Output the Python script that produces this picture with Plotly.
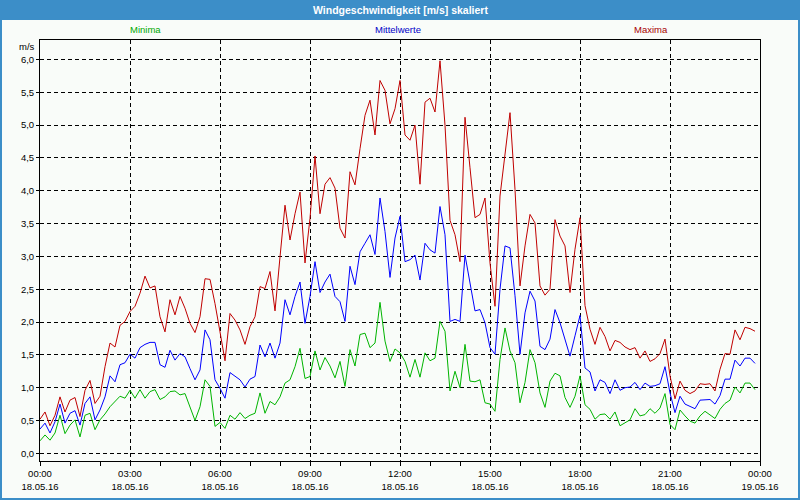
import plotly.graph_objects as go

# ---------------- data (10-minute samples, 18.05.16 00:00 .. 23:50) ----------------
maxima = [
    0.52, 0.63, 0.42, 0.58, 0.86, 0.63, 0.81, 0.85, 0.56, 0.96, 1.11, 0.76, 0.87, 1.32, 1.68,
    1.62, 1.95, 2.01, 2.16, 2.24, 2.44, 2.70, 2.52, 2.55, 2.08, 1.85, 2.34, 2.11, 2.39, 2.21,
    1.98, 1.84, 2.08, 2.66, 2.65, 2.28, 1.85, 1.41, 2.13, 2.03, 1.88, 1.66, 1.93, 2.08, 2.54,
    2.51, 2.77, 2.17, 2.99, 3.78, 3.25, 3.65, 3.98, 2.90, 3.58, 4.53, 3.65, 4.10,
    4.20, 4.04, 3.43, 3.28, 4.29, 4.09, 4.64, 5.15, 5.38, 4.85, 5.68, 5.53, 5.02, 5.25, 5.68,
    4.85, 4.77, 5.00, 4.10, 5.35, 5.41, 5.20, 5.98, 5.00, 3.55, 3.33, 2.92, 5.12, 4.35,
    3.59, 3.64, 3.89, 2.90, 2.24, 3.92, 4.60, 5.19, 4.02, 2.55, 3.16, 3.64, 3.51, 2.55, 2.41,
    2.50, 3.56, 3.31, 3.16, 2.45, 3.11, 3.59, 2.25, 1.89, 1.66, 1.92, 1.78, 1.56, 1.72,
    1.69, 1.62, 1.58, 1.61, 1.45, 1.56, 1.40, 1.44, 1.52, 1.74, 1.18, 0.83, 1.10, 0.96, 0.91,
    0.95, 1.06, 1.05, 1.06, 0.95, 1.28, 1.52, 1.51, 1.88, 1.73, 1.92, 1.90, 1.86,
]
mittelwerte = [
    0.37, 0.46, 0.31, 0.48, 0.75, 0.46, 0.61, 0.65, 0.43, 0.76, 0.86, 0.51, 0.66, 0.86, 1.18,
    1.09, 1.35, 1.38, 1.51, 1.45, 1.61, 1.66, 1.69, 1.69, 1.35, 1.31, 1.57, 1.42, 1.52, 1.47,
    1.29, 1.12, 1.27, 1.88, 1.73, 1.12, 0.99, 0.84, 1.23, 1.17, 1.12, 1.01, 1.13, 1.17, 1.65,
    1.47, 1.68, 1.45, 1.68, 2.34, 2.11, 2.39, 2.61, 1.98, 2.39, 2.92, 2.45, 2.61,
    2.73, 2.39, 2.31, 2.01, 2.85, 2.57, 3.07, 3.20, 3.33, 3.03, 3.89, 3.38, 2.68, 3.28, 3.61,
    2.92, 2.95, 3.02, 2.64, 3.20, 3.10, 3.05, 3.76, 3.33, 2.01, 2.04, 2.01, 3.02, 2.60,
    2.17, 2.19, 1.99, 1.61, 1.51, 2.50, 3.16, 3.13, 2.40, 1.51, 2.14, 2.47, 2.32, 1.63, 1.58,
    1.74, 2.19, 1.99, 1.74, 1.48, 1.79, 2.10, 1.30, 1.24, 0.95, 1.12, 1.08, 0.91, 1.12,
    0.96, 1.00, 1.01, 1.08, 0.97, 1.07, 1.02, 1.03, 1.06, 1.32, 0.92, 0.62, 0.87, 0.75, 0.71,
    0.68, 0.81, 0.82, 0.82, 0.75, 0.88, 1.13, 1.13, 1.42, 1.33, 1.45, 1.45, 1.37,
]
minima = [
    0.19, 0.28, 0.20, 0.31, 0.58, 0.30, 0.43, 0.51, 0.25, 0.58, 0.61, 0.36, 0.51, 0.60, 0.71,
    0.79, 0.87, 0.84, 0.96, 0.84, 0.97, 0.84, 0.94, 0.97, 0.82, 0.86, 0.94, 0.95, 0.89, 0.91,
    0.71, 0.50, 0.71, 1.12, 1.02, 0.41, 0.47, 0.38, 0.58, 0.52, 0.62, 0.53, 0.58, 0.61, 0.92,
    0.61, 0.79, 0.74, 0.86, 1.07, 1.12, 1.32, 1.60, 1.14, 1.17, 1.56, 1.27, 1.46,
    1.33, 1.15, 1.40, 1.02, 1.58, 1.33, 1.81, 1.83, 1.61, 1.68, 2.30, 1.71, 1.40, 1.59, 1.53,
    1.40, 1.16, 1.43, 1.16, 1.53, 1.41, 1.45, 2.01, 1.86, 0.95, 1.25, 1.00, 1.66, 1.10,
    1.09, 1.12, 0.77, 0.75, 0.64, 1.43, 1.91, 1.56, 1.38, 0.77, 1.08, 1.58, 1.38, 0.92, 0.70,
    1.10, 1.22, 1.18, 0.85, 0.70, 0.87, 1.18, 0.74, 0.67, 0.52, 0.59, 0.60, 0.52, 0.63,
    0.42, 0.46, 0.51, 0.68, 0.57, 0.59, 0.68, 0.61, 0.69, 0.91, 0.44, 0.36, 0.66, 0.57, 0.49,
    0.46, 0.57, 0.64, 0.58, 0.53, 0.67, 0.76, 0.81, 1.01, 0.92, 1.07, 1.07, 0.97,
]
sample_minutes = 10
hours = [i * sample_minutes / 60 for i in range(len(maxima))]

tick_hours = [0, 3, 6, 9, 12, 15, 18, 21, 24]
tick_times = ["00:00", "03:00", "06:00", "09:00", "12:00", "15:00", "18:00", "21:00", "00:00"]
tick_dates = ["18.05.16"] * 8 + ["19.05.16"]
y_ticks = [0, 0.5, 1, 1.5, 2, 2.5, 3, 3.5, 4, 4.5, 5, 5.5, 6]
y_labels = ["0,0", "0,5", "1,0", "1,5", "2,0", "2,5", "3,0", "3,5", "4,0", "4,5", "5,0", "5,5", "6,0"]

title = "Windgeschwindigkeit [m/s] skaliert"
series_names = ["Minima", "Mittelwerte", "Maxima"]

# ---------------- styling / layout ----------------
W, H = 800, 500
L, R, T, B = 40, 40, 40, 39
pw, ph = W - L - R, H - T - B
FONT = "Liberation Sans"
BAR = "#3c8ec8"
BG = "#f9fcf9"
line_cols = ["#00b400", "#0000ff", "#c00000"]
text_cols = ["#00a800", "#0000c8", "#a80000"]


def px_x(x):
    return (x - L) / pw


def px_y(y):
    return 1 - (y - T) / ph


fig = go.Figure()
for vals, name, col in zip([minima, mittelwerte, maxima], series_names, line_cols):
    fig.add_trace(go.Scatter(x=hours, y=vals, mode="lines", name=name,
                             line=dict(color=col, width=1), hoverinfo="skip"))

grid = dict(showgrid=True, gridcolor="black", gridwidth=1, griddash="4px,3px",
            zeroline=False, showline=True, linecolor="black", linewidth=1, mirror=True,
            ticks="outside", tickcolor="black", tickwidth=1, automargin=False,
            tickfont=dict(family=FONT, size=9.5, color="black"))

fig.update_xaxes(range=[0, 24], tickmode="array", tickvals=tick_hours,
                 ticktext=[f"{t}<br>{d}" for t, d in zip(tick_times, tick_dates)],
                 ticklen=4,
                 minor=dict(tickmode="linear", tick0=0, dtick=1, ticks="outside",
                            ticklen=4, tickcolor="black", showgrid=False),
                 **grid)
fig.update_yaxes(range=[-0.117, 6.297], tickmode="array", tickvals=y_ticks,
                 ticktext=y_labels, ticklen=3, **grid)

shapes = [
    dict(type="rect", xref="paper", yref="paper", x0=px_x(0), x1=px_x(W), y0=px_y(20), y1=px_y(0),
         fillcolor=BAR, line=dict(width=0), layer="below"),
    dict(type="rect", xref="paper", yref="paper", x0=px_x(1), x1=px_x(W - 1), y0=px_y(H - 1), y1=px_y(1),
         fillcolor="rgba(0,0,0,0)", line=dict(color=BAR, width=2)),
]

annotations = [
    dict(text="<b>" + title + "</b>", x=px_x(400), y=px_y(10), xref="paper", yref="paper",
         showarrow=False, xanchor="center", yanchor="middle",
         font=dict(family=FONT, size=10.5, color="white")),
    dict(text="m/s", x=px_x(37), y=px_y(46), xref="paper", yref="paper", showarrow=False,
         xanchor="right", yanchor="middle", font=dict(family=FONT, size=9.5, color="black")),
]
for name, cx, col in zip(series_names, [145, 398, 651], text_cols):
    annotations.append(dict(text=name, x=px_x(cx), y=px_y(30), xref="paper", yref="paper",
                            showarrow=False, xanchor="center", yanchor="middle",
                            font=dict(family=FONT, size=9.5, color=col)))

fig.update_layout(width=W, height=H, margin=dict(l=L, r=R, t=T, b=B, pad=0, autoexpand=False),
                  paper_bgcolor=BG, plot_bgcolor=BG, showlegend=False,
                  shapes=shapes, annotations=annotations, hovermode=False)

fig.write_html("out.html", config={"displayModeBar": False, "staticPlot": True},
               post_script="document.body.style.margin='0px';document.body.style.padding='0px';")
